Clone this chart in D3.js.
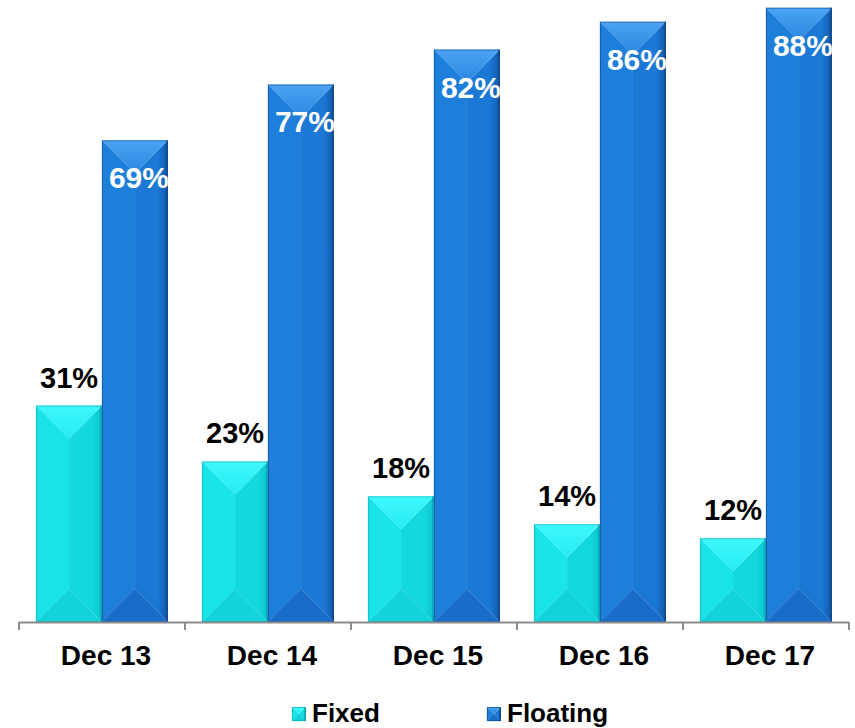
<!DOCTYPE html>
<html>
<head>
<meta charset="utf-8">
<script src="https://cdn.jsdelivr.net/npm/d3@7/dist/d3.min.js"></script>
<style>
  html, body { margin: 0; padding: 0; background: #ffffff; }
  svg { display: block; font-family: Arial, "Liberation Sans", Helvetica, sans-serif; }
</style>
</head>
<body>
<svg id="chart" width="855" height="728"></svg>
<script>
// Share of fixed vs floating rate, by year end
const categories = ["Dec 13", "Dec 14", "Dec 15", "Dec 16", "Dec 17"];
const seriesNames = ["Fixed", "Floating"];
const fixedValues = [31, 23, 18, 14, 12];
const floatingValues = [69, 77, 82, 86, 88];

const palette = {
  Fixed: {
    topA: "#3ef8fc", topB: "#26ecf2",
    left: "#18e4ea", rightA: "#13d8de", rightB: "#0cc2c9",
    bottom: "#11d3d9", edge: "#07a3aa"
  },
  Floating: {
    topA: "#4aa3f4", topB: "#2a86de",
    left: "#1e7fda", rightA: "#1b78d4", rightB: "#1258aa",
    bottom: "#196cc8", edge: "#0a4688"
  }
};

const svg = d3.select("#chart");
const defs = svg.append("defs");
const baseY = 622;

// gradients per series
seriesNames.forEach(name => {
  const c = palette[name];
  const tg = defs.append("linearGradient").attr("id", "top-" + name)
    .attr("x1", 0).attr("y1", 0).attr("x2", 0).attr("y2", 1);
  tg.append("stop").attr("offset", "0%").attr("stop-color", c.topA);
  tg.append("stop").attr("offset", "100%").attr("stop-color", c.topB);
  const rg = defs.append("linearGradient").attr("id", "right-" + name)
    .attr("x1", 0).attr("y1", 0).attr("x2", 1).attr("y2", 0);
  rg.append("stop").attr("offset", "0%").attr("stop-color", c.rightA);
  rg.append("stop").attr("offset", "70%").attr("stop-color", c.rightA);
  rg.append("stop").attr("offset", "100%").attr("stop-color", c.rightB);
});

const x0 = d3.scaleBand().domain(categories).range([19, 849]).padding(0);
const x1 = d3.scaleBand().domain(seriesNames).range([0, x0.bandwidth()])
  .paddingInner(0).paddingOuter(0.26);
const y = d3.scaleLinear().domain([0, 89.1]).range([baseY, 0]);

const rows = categories.map((c, i) => ({
  cat: c,
  values: [
    { series: "Fixed", value: fixedValues[i] },
    { series: "Floating", value: floatingValues[i] }
  ]
}));

// Bevelled bar: four faces meeting at 45 degree seams
function bevelBar(g, bx, by, w, h, name) {
  const col = palette[name];
  const d = Math.min(w / 2, h / 2);
  const mx = bx + w / 2;
  const faces = [
    { pts: [[bx, by], [mx, by + d], [mx, by + h - d], [bx, by + h]], fill: col.left },
    { pts: [[bx + w, by], [mx, by + d], [mx, by + h - d], [bx + w, by + h]], fill: `url(#right-${name})` },
    { pts: [[bx, by], [bx + w, by], [mx, by + d]], fill: `url(#top-${name})` },
    { pts: [[bx, by + h], [bx + w, by + h], [mx, by + h - d]], fill: col.bottom }
  ];
  g.selectAll(null).data(faces).enter().append("polygon")
    .attr("points", f => f.pts.map(p => p.join(",")).join(" "))
    .attr("fill", f => f.fill)
    .attr("stroke", f => f.fill.startsWith("url") ? "none" : f.fill)
    .attr("stroke-width", 0.3);
  g.append("rect").attr("x", bx + w - 2).attr("y", by).attr("width", 2).attr("height", h)
    .attr("fill", col.edge).attr("opacity", 0.6);
  g.append("rect").attr("x", bx + 0.5).attr("y", by + 0.5).attr("width", w - 1).attr("height", h - 1)
    .attr("fill", "none").attr("stroke", col.edge).attr("stroke-width", 1).attr("opacity", 0.55);
}

const groups = svg.selectAll("g.cat").data(rows).enter().append("g")
  .attr("class", "cat")
  .attr("transform", d => `translate(${x0(d.cat)},0)`);

groups.each(function (row, ri) {
  const g = d3.select(this);
  row.values.forEach(v => {
    const bx = x1(v.series);
    const by = y(v.value);
    const w = x1.bandwidth();
    const h = baseY - by;
    bevelBar(g.append("g"), bx, by, w, h, v.series);
    if (v.series === "Fixed") {
      g.append("text")
        .attr("x", bx + w / 2)
        .attr("y", by - 18)
        .attr("text-anchor", "middle")
        .attr("font-size", 29)
        .attr("font-weight", "bold")
        .attr("fill", "#000000")
        .text(v.value + "%");
    } else {
      // white label inside the bar, clipped to the bar
      const cid = "clip-" + ri;
      defs.append("clipPath").attr("id", cid)
        .append("rect").attr("x", x0(row.cat) + bx).attr("y", by).attr("width", w).attr("height", h);
      svg.append("text")
        .attr("clip-path", `url(#${cid})`)
        .attr("x", x0(row.cat) + bx + w / 2 + 4)
        .attr("y", by + 48)
        .attr("text-anchor", "middle")
        .attr("font-size", 30)
        .attr("font-weight", "bold")
        .attr("fill", "#ffffff")
        .text(v.value + "%");
    }
  });
});

// Category axis
const axis = d3.axisBottom(x0).tickSize(0).tickPadding(0);
const axisG = svg.append("g").attr("transform", `translate(0,${baseY})`).call(axis);
axisG.select(".domain").remove();
axisG.selectAll("text")
  .attr("y", 43)
  .attr("dy", 0)
  .attr("dx", 4)
  .attr("font-size", 28)
  .attr("font-weight", "bold")
  .attr("fill", "#000")
  .attr("font-family", "Arial, 'Liberation Sans', sans-serif");

const boundaries = categories.map(c => x0(c)).concat([x0(categories[categories.length - 1]) + x0.bandwidth()]);
svg.append("line")
  .attr("x1", boundaries[0]).attr("x2", boundaries[boundaries.length - 1])
  .attr("y1", baseY + 0.5).attr("y2", baseY + 0.5)
  .attr("stroke", "#8c8c8c").attr("stroke-width", 2);
svg.selectAll("line.tick-mark").data(boundaries).enter().append("line")
  .attr("class", "tick-mark")
  .attr("x1", d => d).attr("x2", d => d)
  .attr("y1", baseY).attr("y2", baseY + 8)
  .attr("stroke", "#8c8c8c").attr("stroke-width", 2);

// Legend
const legendX = [292, 487];
const legend = svg.selectAll("g.legend").data(seriesNames).enter().append("g")
  .attr("class", "legend")
  .attr("transform", (d, i) => `translate(${legendX[i]},707)`);
legend.each(function (name) {
  bevelBar(d3.select(this).append("g"), 0, 0, 14, 14, name);
});
legend.append("text")
  .attr("x", 20)
  .attr("y", 15)
  .attr("font-size", 26)
  .attr("font-weight", "bold")
  .attr("fill", "#000")
  .text(d => d);
</script>
</body>
</html>
